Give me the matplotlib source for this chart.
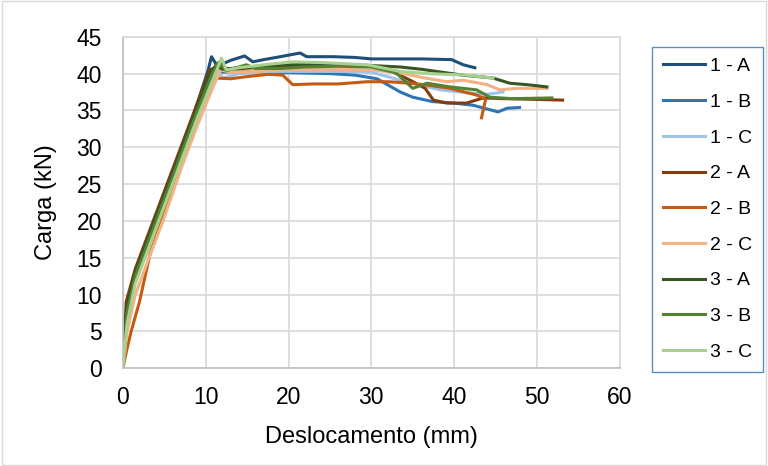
import matplotlib
matplotlib.use("Agg")
import matplotlib.pyplot as plt

labels = ["1 - A", "1 - B", "1 - C", "2 - A", "2 - B", "2 - C", "3 - A", "3 - B", "3 - C"]
colors = ["#1F4E79", "#2E75B6", "#9DC3E6", "#843C0C", "#C55A11", "#F4B183",
          "#375623", "#548235", "#A9D18E"]

x_1a = [0, 0.5, 1.5, 3, 5, 7, 9, 10.3, 10.7, 11.3, 12, 13, 14.7, 15.7, 17, 19, 21.4, 22.2,
        24, 25.4, 28, 30, 33.5, 36, 39.7, 41.1, 42.5]
y_1a = [0, 8, 13, 17.5, 23.5, 29.5, 36, 40.5, 42.3, 41.2, 41.3, 41.8, 42.4, 41.6, 41.9, 42.3,
        42.8, 42.3, 42.3, 42.3, 42.2, 42.0, 42.0, 42.0, 41.9, 41.2, 40.8]

x_1b = [0, 0.5, 1.5, 3, 5, 7, 9, 10.5, 11.2, 12, 14, 17, 21.4, 25, 28, 30.7, 33.5, 35, 37.4,
        40, 42.3, 45.3, 46.4, 47.9]
y_1b = [0, 7, 12.5, 17, 23, 29, 35, 39.5, 41, 40.2, 40.3, 40.2, 40.1, 40.0, 39.8, 39.3, 37.5,
        36.8, 36.2, 36, 35.7, 34.8, 35.3, 35.4]

x_1c = [0, 0.5, 1.5, 3, 5, 7, 9, 11, 11.5, 12.1, 14, 18, 22, 26, 30, 33.5, 36, 38.3, 41.5,
        44, 45.9]
y_1c = [0, 6.5, 12, 16.5, 22, 28, 34, 39.5, 40.3, 39.4, 40, 40.3, 40.3, 40.3, 40.2, 39.1,
        38.4, 37.8, 37.4, 37.2, 37.5]

x_2a = [0, 0.4, 1.5, 3, 5, 7, 9, 10.5, 11.5, 13, 16, 20, 25, 30, 32.5, 34.7, 36.5, 37.5,
        39.1, 41.5, 43.5, 46, 50, 53.1]
y_2a = [0, 9, 13.5, 18, 24, 30, 36, 40.5, 41, 40.6, 40.8, 41, 41.2, 41, 40.3, 39.1, 38,
        36.4, 36, 36, 36.7, 36.6, 36.5, 36.4]

x_2b = [0, 0.45, 1, 2, 3.3, 4.8, 7, 9, 10.3, 11.1, 13, 15, 17.5, 19.3, 20.5, 23, 26, 29.5,
        32, 34.7, 37, 39.5, 42.7, 43.5, 43.8, 43.3]
y_2b = [0, 2.4, 5, 9, 15.6, 20.5, 27.5, 34, 39.3, 39.4, 39.3, 39.6, 39.9, 39.8, 38.5, 38.6,
        38.6, 38.9, 38.9, 38.7, 38.4, 38, 37.1, 36.7, 36.5, 34]

x_2c = [0, 0.5, 1.5, 3, 5, 7, 9, 11, 11.8, 13, 16, 20, 25, 30, 33.5, 36, 39.1, 41.1, 44,
        45.5, 47.6, 51.2]
y_2c = [0, 5, 10, 14.5, 20.5, 27, 33, 38.5, 40.5, 40.2, 40.3, 40.5, 40.6, 40.5, 40.1, 39.5,
        38.9, 39.1, 38.5, 37.8, 38, 38]

x_3a = [0, 0.5, 1.5, 3, 5, 7, 9, 10.5, 11.3, 12, 14, 17, 20, 25, 30, 33.5, 36, 39.1, 41,
        44.7, 46.7, 48.8, 51.2]
y_3a = [0, 8.5, 13, 17.5, 23.5, 29.5, 35.5, 40, 41.2, 40.6, 40.8, 41, 41.2, 41.3, 41.1,
        40.9, 40.6, 40.1, 39.8, 39.4, 38.7, 38.5, 38.2]

x_3b = [0, 0.5, 1.5, 3, 5, 7, 9, 10.8, 11.5, 12.5, 14.9, 16, 19, 22, 26, 30, 33, 35, 36.7,
        39.5, 42.7, 44.3, 47, 51.8]
y_3b = [0, 7.5, 12.5, 17, 23, 29, 35, 40, 41.5, 40.4, 41.2, 40.7, 40.7, 40.9, 41, 40.9,
        40.1, 38, 38.7, 38.2, 37.8, 36.8, 36.6, 36.7]

x_3c = [0, 0.5, 1.5, 3, 5, 7, 9, 11, 11.9, 12.5, 14, 17, 20.5, 24, 29.5, 33.5, 37, 41.5, 44.7]
y_3c = [0, 6, 11.5, 16, 22, 28, 34, 39.5, 42.1, 40.5, 40.8, 41.2, 41.6, 41.5, 41.2, 40.3,
        40, 39.8, 39.4]

series = [(x_1a, y_1a), (x_1b, y_1b), (x_1c, y_1c), (x_2a, y_2a), (x_2b, y_2b),
          (x_2c, y_2c), (x_3a, y_3a), (x_3b, y_3b), (x_3c, y_3c)]

plt.rcParams['font.family'] = ['Liberation Sans', 'DejaVu Sans']

fig = plt.figure(figsize=(7.68, 4.66), dpi=100)
ax = fig.add_axes([0.160, 0.210, 0.647, 0.711])

for (xs, ys), lab, col in zip(series, labels, colors):
    ax.plot(xs, ys, color=col, lw=2.2, label=lab, solid_joinstyle='round')

ax.set_xlim(0, 60)
ax.set_ylim(0, 45)
ax.set_xticks(range(0, 61, 10))
ax.set_yticks(range(0, 46, 5))
ax.grid(True, color="#D9D9D9", lw=1.2)
ax.set_axisbelow(True)
for s in ax.spines.values():
    s.set_color("#D9D9D9")
    s.set_linewidth(1.2)
ax.spines['left'].set_color("#BFBFBF")
ax.spines['bottom'].set_color("#BFBFBF")
ax.tick_params(length=0, labelsize=16.5)
ax.tick_params(axis='y', pad=15)
ax.tick_params(axis='x', pad=13)
ax.set_xlabel("Deslocamento (mm)", fontsize=17, labelpad=12)
ax.set_ylabel("Carga (kN)", fontsize=17, labelpad=14)

leg = fig.legend(loc='upper left', bbox_to_anchor=(652 / 768, 1 - 47 / 466),
                 frameon=True, fancybox=False, fontsize=14, labelspacing=0.93,
                 handlelength=2.2, handletextpad=0.25, borderpad=0.55, borderaxespad=0)
leg.get_frame().set_edgecolor("#2E75B6")
leg.get_frame().set_linewidth(1.0)

fig.patches.append(plt.Rectangle((0.002, 0.003), 0.995, 0.994, transform=fig.transFigure,
                                 fill=False, edgecolor="#D9D9D9", lw=1))

fig.savefig("out.png", dpi=100)
